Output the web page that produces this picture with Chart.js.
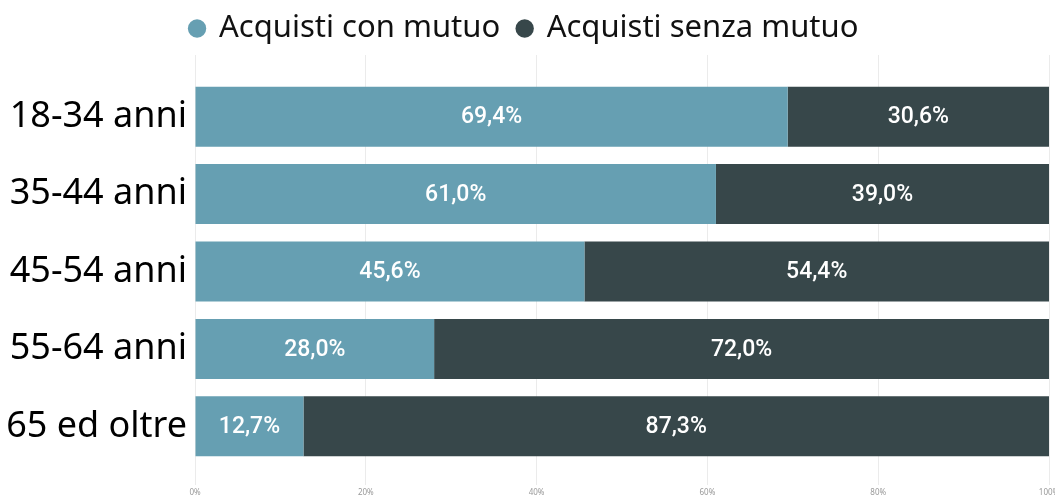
<!DOCTYPE html>
<html>
<head>
<meta charset="utf-8">
<script src="https://cdn.jsdelivr.net/npm/chart.js@4/dist/chart.umd.min.js"></script>
<style>
    html, body { margin: 0; padding: 0; background: #fff; overflow: hidden; }
    #wrap { width: 1055px; height: 498px; }
</style>
</head>
<body>
<div id="wrap"><canvas id="chart"></canvas></div>
<script>
const ageGroups = ['18-34 anni', '35-44 anni', '45-54 anni', '55-64 anni', '65 ed oltre'];
const withMortgage = [69.4, 61.0, 45.6, 28.0, 12.7];
const withoutMortgage = [30.6, 39.0, 54.4, 72.0, 87.3];
const seriesNames = ['Acquisti con mutuo', 'Acquisti senza mutuo'];
const xTicks = [0, 20, 40, 60, 80, 100];

const LIGHT = '#669fb2';
const DARK = '#37474a';
const GRID = '#ebebeb';

function fmtPct(v) {
    return v.toFixed(1).replace('.', ',') + '%';
}

// white value labels centred inside each bar segment
const barLabels = {
    id: 'barLabels',
    afterDatasetsDraw(chart) {
        const ctx = chart.ctx;
        ctx.save();
        ctx.fillStyle = '#ffffff';
        ctx.font = '500 23px Roboto';
        ctx.textAlign = 'center';
        ctx.textBaseline = 'middle';
        chart.data.datasets.forEach((ds, i) => {
            const meta = chart.getDatasetMeta(i);
            meta.data.forEach((bar, j) => {
                const cx = (bar.x + bar.base) / 2;
                ctx.fillText(fmtPct(ds.data[j]), cx, bar.y + 1);
            });
        });
        ctx.restore();
    }
};

// fixed legend height, and nudge it up a little
const legendTweak = {
    id: 'legendTweak',
    beforeInit(chart) {
        const legend = chart.legend;
        const fit = legend.fit;
        legend.fit = function () {
            fit.bind(this)();
            this.height = 55;
        };
        const draw = legend.draw;
        legend.draw = function () {
            const c = this.ctx;
            c.save();
            c.translate(0, -5);
            draw.bind(this)();
            c.restore();
        };
    }
};

// let the last x tick label run off the canvas instead of shrinking the plot
function noSidePadding(scale) {
    scale.paddingRight = 0;
    scale.paddingLeft = 0;
}

const ctx = document.getElementById('chart');

new Chart(ctx, {
    type: 'bar',
    data: {
        labels: ageGroups,
        datasets: [
            {
                label: seriesNames[0],
                data: withMortgage,
                backgroundColor: LIGHT,
                borderWidth: 0,
                barPercentage: 0.775,
                categoryPercentage: 1,
            },
            {
                label: seriesNames[1],
                data: withoutMortgage,
                backgroundColor: DARK,
                borderWidth: 0,
                barPercentage: 0.775,
                categoryPercentage: 1,
            },
        ]
    },
    options: {
        indexAxis: 'y',
        responsive: true,
        maintainAspectRatio: false,
        animation: false,
        layout: { padding: { left: 0, right: 6, top: 0, bottom: 0 } },
        plugins: {
            tooltip: { enabled: false },
            legend: {
                position: 'top',
                labels: {
                    usePointStyle: true,
                    pointStyle: 'circle',
                    boxWidth: 13,
                    boxHeight: 13,
                    padding: 18,
                    color: '#111',
                    font: { family: 'Noto Sans', size: 31 },
                }
            }
        },
        scales: {
            x: {
                stacked: true,
                min: 0,
                max: 100,
                position: 'bottom',
                afterTickToLabelConversion(scale) {
                    scale.ticks = scale.ticks.filter(t => xTicks.includes(t.value));
                },
                afterFit(scale) {
                    scale.height = 33;
                    noSidePadding(scale);
                },
                border: { display: false },
                grid: { color: GRID, drawTicks: true, tickLength: 20 },
                ticks: {
                    stepSize: 20,
                    padding: 3,
                    color: '#999',
                    font: { family: 'Noto Sans', size: 8 },
                    callback: (v) => v + '%',
                }
            },
            xTop: {
                type: 'linear',
                display: true,
                position: 'top',
                min: 0,
                max: 100,
                afterFit(scale) {
                    scale.height = 23;
                    noSidePadding(scale);
                },
                border: { display: false },
                grid: { color: GRID, drawOnChartArea: false, drawTicks: true, tickLength: 23 },
                ticks: { display: false, stepSize: 20 },
            },
            y: {
                stacked: true,
                afterFit(scale) { scale.width = 195; },
                border: { display: false },
                grid: { display: false, drawTicks: false },
                ticks: {
                    padding: 8,
                    color: '#000',
                    font: { family: 'Noto Sans', size: 36 },
                }
            }
        }
    },
    plugins: [barLabels, legendTweak]
});
</script>
</body>
</html>
